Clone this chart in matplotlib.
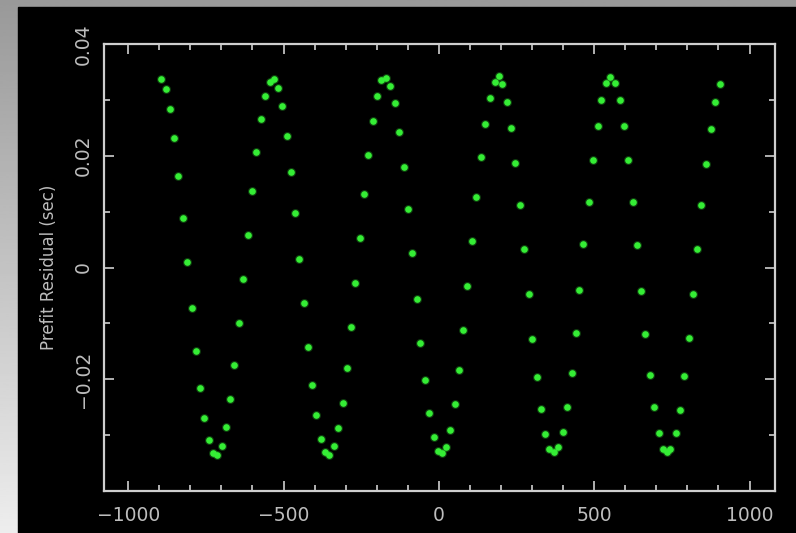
import numpy as np
import matplotlib
matplotlib.use('Agg')
import matplotlib.pyplot as plt
from matplotlib.patches import Rectangle
from matplotlib.ticker import MultipleLocator

# ── Data ──────────────────────────────────────────────────────
epoch = [
    -895, -878, -866, -852, -839, -824, -810, -796, -782, -769, -755, -740, -726, -715,
    -698, -686, -673, -659, -643, -630, -616, -603, -589, -574, -560, -544, -531,
    -517, -504, -490, -477, -463, -450, -435, -421, -408, -394, -380, -365, -354,
    -337, -324, -310, -296, -284, -269, -254, -241, -227, -212, -198, -185, -171,
    -156, -142, -129, -113, -101, -88, -72, -61, -46, -32, -17, -3, 10,
    24, 37, 51, 65, 78, 92, 108, 121, 134, 148, 163, 182, 192,
    204, 218, 232, 246, 260, 274, 289, 301, 315, 330, 343, 356, 369,
    385, 399, 413, 427, 440, 450, 464, 482, 497, 512, 523, 539, 551,
    567, 582, 595, 609, 624, 638, 650, 665, 679, 694, 707, 723, 735,
    745, 764, 776, 790, 804, 818, 832, 845, 859, 875, 890, 905,
]
resid_ms = [
    33.7, 31.9, 28.3, 23.1, 16.4, 8.9, 0.9, -7.2, -14.9, -21.5, -27.0, -30.9, -33.2, -33.5,
    -31.9, -28.5, -23.6, -17.4, -10.0, -2.1, 5.9, 13.7, 20.7, 26.5, 30.7, 33.2, 33.8,
    32.2, 28.9, 23.6, 17.1, 9.7, 1.6, -6.3, -14.3, -21.1, -26.4, -30.7, -33.0, -33.5,
    -31.9, -28.8, -24.3, -17.9, -10.6, -2.7, 5.3, 13.2, 20.1, 26.2, 30.7, 33.5, 34.0,
    32.5, 29.5, 24.2, 17.9, 10.5, 2.6, -5.7, -13.5, -20.1, -26.0, -30.3, -32.8, -33.2,
    -32.1, -29.1, -24.4, -18.3, -11.2, -3.3, 4.7, 12.6, 19.7, 25.7, 30.4, 33.2, 34.3,
    32.8, 29.6, 25.0, 18.7, 11.1, 3.3, -4.8, -12.8, -19.6, -25.3, -29.8, -32.5, -33.1,
    -32.2, -29.4, -24.9, -18.9, -11.8, -4.0, 4.2, 11.8, 19.2, 25.4, 30.0, 33.1, 34.1,
    33.1, 30.0, 25.4, 19.2, 11.8, 4.0, -4.2, -11.9, -19.2, -25.0, -29.7, -32.5, -33.1,
    -32.5, -29.7, -25.5, -19.4, -12.6, -4.8, 3.3, 11.2, 18.5, 24.8, 29.6, 32.8,
]
resid = np.array(resid_ms) / 1000.0

x_ticks = [-1000, -500, 0, 500, 1000]
y_ticks = [-0.02, 0, 0.02, 0.04]

# ── Style ─────────────────────────────────────────────────────
plt.rcParams['font.family'] = ['DejaVu Sans']
TXT = '#bdbdbd'
AX = '#cfcfcf'
DOT = '#35ee35'

fig = plt.figure(figsize=(7.96, 5.33), dpi=100)

# gray gradient frame behind the black panel (darker at top)
bg = fig.add_axes([0, 0, 1, 1], zorder=-10)
grad = np.linspace(0.60, 0.93, 256).reshape(-1, 1)
bg.imshow(grad, cmap='gray', vmin=0, vmax=1, aspect='auto',
          extent=[0, 1, 0, 1], origin='upper')
bg.add_patch(Rectangle((18 / 796, 0), 1, 1 - 7 / 533, color='black'))
bg.set_xlim(0, 1)
bg.set_ylim(0, 1)
bg.axis('off')

ax = fig.add_axes([104 / 796, 1 - 491 / 533, (775 - 104) / 796, (491 - 44) / 533])
ax.set_facecolor('black')
ax.plot(epoch, resid, 'o', color=DOT, markersize=6.5, markeredgewidth=0, alpha=0.25)
ax.plot(epoch, resid, 'o', color=DOT, markersize=4.8, markeredgewidth=0)

ax.set_xlim(-1078, 1082)
ax.set_ylim(-0.04, 0.04)
ax.set_xticks(x_ticks)
ax.set_xticklabels(['\u22121000', '\u2212500', '0', '500', '1000'])
ax.set_yticks(y_ticks)
ax.set_yticklabels(['\u22120.02', '0', '0.02', '0.04'], rotation=90, va='center')
ax.xaxis.set_minor_locator(MultipleLocator(100))
ax.yaxis.set_minor_locator(MultipleLocator(0.01))

for s in ax.spines.values():
    s.set_color(AX)
    s.set_linewidth(1.6)
ax.tick_params(which='both', direction='in', top=True, right=True, color=AX, width=1.2)
ax.tick_params(which='major', length=7)
ax.tick_params(which='minor', length=4)
ax.tick_params(axis='x', which='major', labelsize=13.5, labelcolor=TXT, pad=11)
ax.tick_params(axis='y', which='major', labelsize=13.5, labelcolor=TXT, pad=8)

ax.set_ylabel('Prefit Residual (sec)', color=TXT, fontsize=12)
ax.yaxis.set_label_coords(-0.068, 0.5)

fig.savefig('out.png', dpi=100, facecolor='black')
